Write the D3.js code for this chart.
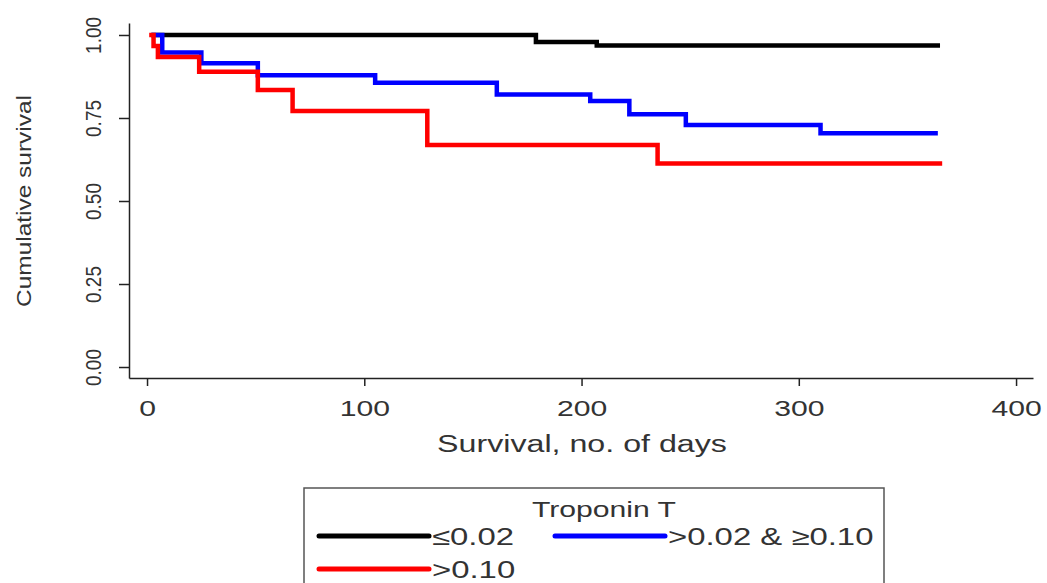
<!DOCTYPE html>
<html>
<head>
<meta charset="utf-8">
<script src="https://cdn.jsdelivr.net/npm/d3@7"></script>
<style>
  body { margin: 0; background: #fff; }
  text { font-family: "Liberation Sans", Arial, Helvetica, sans-serif; fill: #333; }
</style>
</head>
<body>
<div id="chart"></div>
<script>
// Troponin T groups
const groups = ["≤0.02", ">0.02 & ≥0.10", ">0.10"];
const groupColors = ["#000000", "#0000ff", "#ff0000"];

// Kaplan-Meier steps (day of the step, survival after it)
const lowDays = [2, 179, 207, 365];
const lowSurv = [1.0, 0.979, 0.968, 0.968];
const midDays = [2, 7, 25, 51, 105, 161, 204, 222, 248, 310, 364];
const midSurv = [1.0, 0.947, 0.915, 0.879, 0.856, 0.821, 0.801, 0.761, 0.729, 0.704, 0.704];
const highDays = [1, 3, 5, 24, 51, 67, 129, 235, 366];
const highSurv = [1.0, 0.967, 0.934, 0.889, 0.834, 0.771, 0.669, 0.613, 0.613];

const xTicks = [0, 100, 200, 300, 400];
const yTicks = [0, 0.25, 0.5, 0.75, 1];

const series = [
  { days: lowDays, surv: lowSurv },
  { days: midDays, surv: midSurv },
  { days: highDays, surv: highSurv }
];

// the source picture is stretched sideways, so text is widened to match
const stretchX = 1.37;
function widen (sel, k) {
  sel.each(function () {
    let w = this.getComputedTextLength();
    d3.select(this).attr("textLength", w * k).attr("lengthAdjust", "spacingAndGlyphs");
  });
}

let width = 1047, height = 583;
let svg = d3.select("#chart").append("svg")
  .attr("width", width)
  .attr("height", height);

let x = d3.scaleLinear().domain([-8.3, 407.8]).range([129, 1033]);
let y = d3.scaleLinear().domain([-0.0331, 1.0361]).range([378, 23]);

// x axis
let xAxis = svg.append("g")
  .attr("transform", "translate(0,378)")
  .call(d3.axisBottom(x).tickValues(xTicks).tickSize(8).tickSizeOuter(0).tickPadding(14));
xAxis.attr("font-size", null).attr("font-family", null);
xAxis.selectAll("text").style("font-size", "22px").attr("fill", "#333");
widen(xAxis.selectAll("text"), stretchX);

// y axis, labels turned on their side
let yAxis = svg.append("g")
  .attr("transform", "translate(129,0)")
  .call(d3.axisLeft(y).tickValues(yTicks).tickFormat(d3.format(".2f")).tickSize(10).tickSizeOuter(0));
yAxis.attr("font-size", null).attr("font-family", null);
yAxis.selectAll("text")
  .style("font-size", "22px")
  .attr("fill", "#333")
  .attr("text-anchor", "middle")
  .attr("transform", "rotate(-90)")
  .attr("x", 0)
  .attr("y", -36)
  .attr("dy", "0.36em");
widen(yAxis.selectAll("text"), 0.86);

svg.selectAll(".domain, .tick line").attr("stroke", "#222").attr("stroke-width", 1.5);

// axis titles
let yTitle = svg.append("text")
  .attr("transform", "translate(24,201) rotate(-90)")
  .attr("text-anchor", "middle")
  .attr("dy", "0.35em")
  .style("font-size", "21px")
  .text("Cumulative survival");
widen(yTitle, 212 / yTitle.node().getComputedTextLength());

let xTitle = svg.append("text")
  .attr("x", 582)
  .attr("y", 452)
  .attr("text-anchor", "middle")
  .style("font-size", "23.5px")
  .text("Survival, no. of days");
widen(xTitle, stretchX);

// survival curves
let line = d3.line()
  .x(function (d) { return x(d[0]); })
  .y(function (d) { return y(d[1]); })
  .curve(d3.curveStepAfter);

series.forEach(function (s, i) {
  let pts = s.days.map(function (d, j) { return [d, s.surv[j]]; });
  svg.append("path")
    .datum(pts)
    .attr("fill", "none")
    .attr("stroke", groupColors[i])
    .attr("stroke-width", 4.5)
    .attr("d", line);
});

// legend
let legend = svg.append("g");
legend.append("rect")
  .attr("x", 304).attr("y", 488)
  .attr("width", 580).attr("height", 130)
  .attr("fill", "none")
  .attr("stroke", "#555")
  .attr("stroke-width", 1.5);
let legendTitle = legend.append("text")
  .attr("x", 604).attr("y", 517)
  .attr("text-anchor", "middle")
  .style("font-size", "22px")
  .text("Troponin T");
widen(legendTitle, stretchX);

let keyW = 110;
groups.forEach(function (g, i) {
  let col = i % 2, row = Math.floor(i / 2);
  let kx = 319 + col * 236, ky = 536 + row * 33;
  legend.append("line")
    .attr("x1", kx).attr("x2", kx + keyW)
    .attr("y1", ky).attr("y2", ky)
    .attr("stroke", groupColors[i])
    .attr("stroke-width", 5)
    .attr("stroke-linecap", "round");
  let t = legend.append("text")
    .attr("x", kx + keyW + 3)
    .attr("y", ky + 8.5)
    .style("font-size", "24px")
    .text(g);
  widen(t, stretchX);
});
</script>
</body>
</html>
